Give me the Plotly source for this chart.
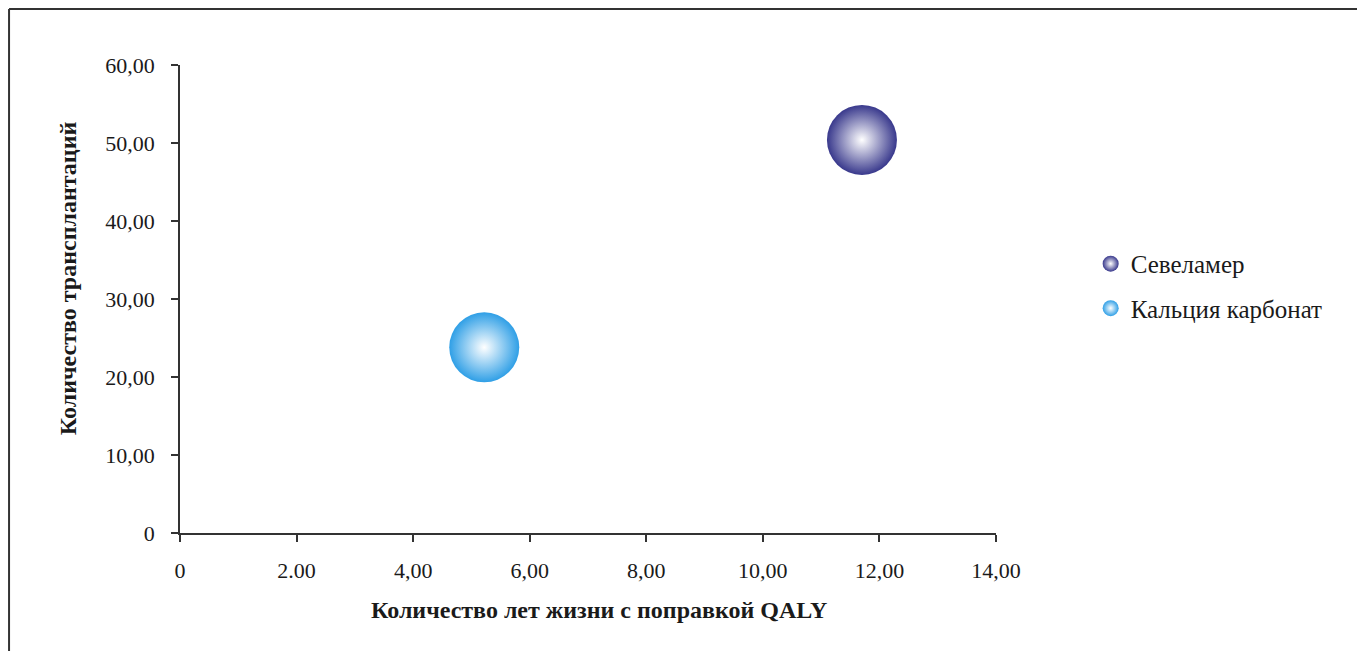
import plotly.graph_objects as go

# Series: QALY gained vs number of transplants
series_names = ["Севеламер", "Кальция карбонат"]
qaly = [11.70, 5.22]
transplants = [50.4, 23.8]
edge_colors = ["#38388c", "#2f9fe6"]

x_tickvals = [0, 2, 4, 6, 8, 10, 12, 14]
x_ticktext = ["0", "2.00", "4,00", "6,00", "8,00", "10,00", "12,00", "14,00"]
y_tickvals = [0, 10, 20, 30, 40, 50, 60]
y_ticktext = ["0", "10,00", "20,00", "30,00", "40,00", "50,00", "60,00"]

x_title = "Количество лет жизни с поправкой QALY"
y_title = "Количество трансплантаций"

FONT = "Liberation Serif, Times New Roman, serif"
INK = "#1a1a1a"

fig = go.Figure()
for name, xv, yv, col in zip(series_names, qaly, transplants, edge_colors):
    fig.add_trace(go.Scatter(
        x=[xv], y=[yv], mode="markers", name=name, legendgroup=name,
        marker=dict(size=70, color=col, line=dict(width=0),
                    gradient=dict(type="radial", color="white")),
    ))

axis_common = dict(
    showgrid=False, zeroline=False, showline=True, linecolor="#333333",
    linewidth=1.5, ticks="outside", ticklen=7, tickwidth=1.5,
    tickcolor="#333333", tickfont=dict(family=FONT, size=22, color=INK),
    fixedrange=True,
)

fig.update_xaxes(range=[0, 14], tickvals=x_tickvals, ticktext=x_ticktext,
                 ticklabelstandoff=10, **axis_common)
fig.update_yaxes(range=[0, 60], tickvals=y_tickvals, ticktext=y_ticktext,
                 ticklabelstandoff=12, **axis_common)

# Axis titles
fig.add_annotation(text="<b>" + x_title + "</b>", xref="paper", yref="paper",
                   x=0.513, y=-0.1645, xanchor="center", yanchor="middle",
                   showarrow=False, font=dict(family=FONT, size=24, color=INK))
fig.add_annotation(text="<b>" + y_title + "</b>", xref="paper", yref="paper",
                   x=-0.137, y=0.545, xanchor="center", yanchor="middle",
                   textangle=-90, showarrow=False,
                   font=dict(family=FONT, size=24, color=INK))

# Frame lines along the top and left of the page
fig.add_shape(type="line", xref="paper", yref="paper", x0=-0.2095, x1=1.45,
              y0=1.1195, y1=1.1195, line=dict(color="#333333", width=2))
fig.add_shape(type="line", xref="paper", yref="paper", x0=-0.2095, x1=-0.2095,
              y0=-0.3, y1=1.1195, line=dict(color="#333333", width=2))

fig.update_layout(
    width=1357, height=651,
    margin=dict(l=180, r=361, t=65, b=118),
    paper_bgcolor="white", plot_bgcolor="white",
    font=dict(family=FONT, color=INK),
    showlegend=True,
    legend=dict(x=1.116, y=0.528, xanchor="left", yanchor="middle",
                font=dict(family=FONT, size=25, color=INK),
                itemsizing="trace", tracegroupgap=9,
                bgcolor="rgba(0,0,0,0)"),
)

fig.write_html("out.html")
